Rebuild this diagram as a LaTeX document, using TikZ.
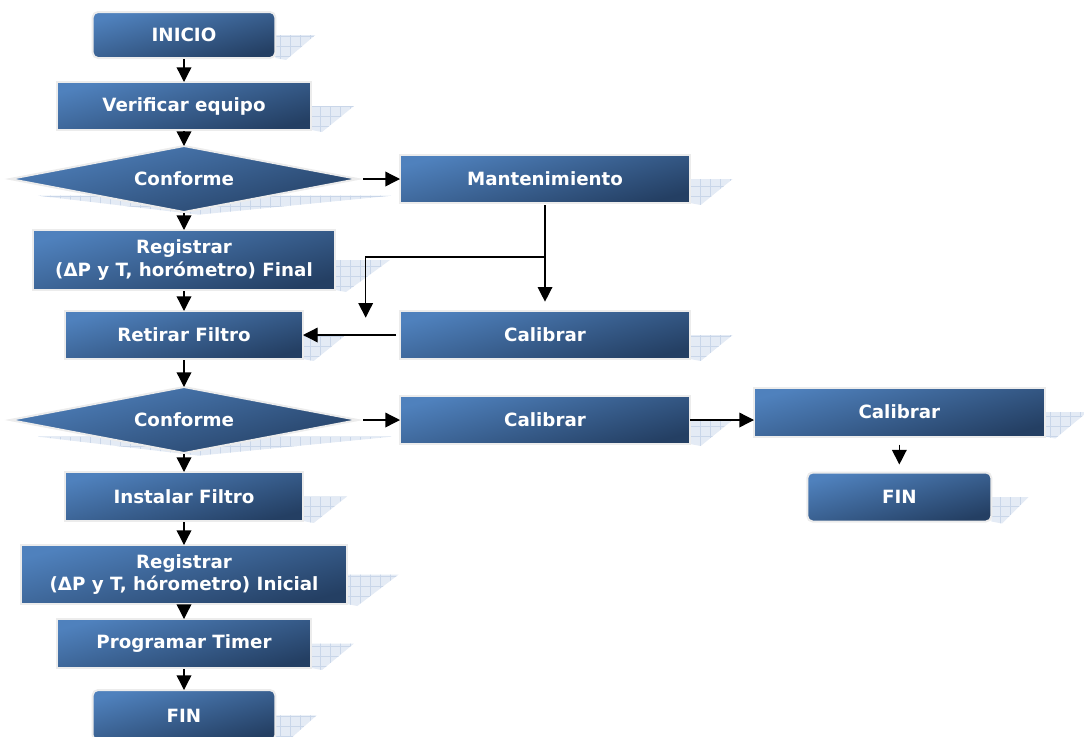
\documentclass[tikz,border=0pt]{standalone}
\usepackage{fontspec}
\setmainfont{DejaVu Sans}
\usepackage{xcolor}
\usepackage{tikz}
\usetikzlibrary{arrows.meta,positioning,calc,shapes.geometric,patterns.meta,backgrounds}
\definecolor{BoxLight}{HTML}{4F81BD}
\definecolor{BoxDark}{HTML}{243F63}
\definecolor{BoxRim}{HTML}{ECECEC}
\definecolor{ShadeFill}{HTML}{E4EBF5}
\definecolor{ShadeGrid}{HTML}{C9D6E9}

\tikzset{
  stepbox/.style={rectangle,draw=BoxRim,line width=1.5pt,outer sep=0pt,
    top color=BoxLight,bottom color=BoxDark,shading angle=15,text=white,
    font=\bfseries\fontsize{13.7}{17}\selectfont,align=center,inner sep=2pt},
  endbox/.style={stepbox,rounded corners=4pt},
  decision/.style={stepbox,diamond,aspect=5,inner sep=0pt,
    minimum width=261pt,minimum height=49.5pt},
  arr/.style={line width=1pt,-{Triangle[width=11pt,length=11pt]}},
  boxshadow/.style={preaction={fill=ShadeFill},
    pattern={Hatch[distance=7.5pt,angle=0,line width=0.5pt]},pattern color=ShadeGrid}
}

\begin{document}
\begin{tikzpicture}
\useasboundingbox (0,0) rectangle (813pt,-552pt);
% columna principal
\node[endbox,minimum width=137pt,minimum height=34.5pt] (inicio) at (138pt,-26.25pt) {INICIO};
\node[stepbox,minimum width=191pt,minimum height=36pt,below=18pt of inicio] (verif) {Verificar equipo};
\node[decision,below=12pt of verif] (conf1) {Conforme};
\node[stepbox,minimum width=227pt,minimum height=45pt,below=13.5pt of conf1] (regfin)
{Registrar\\(ΔP y T, horómetro) Final};
\node[stepbox,minimum width=178.5pt,minimum height=36pt,below=15.75pt of regfin] (retiro) {Retirar Filtro};
\node[decision,below=21pt of retiro] (conf2) {Conforme};
\node[stepbox,minimum width=178.5pt,minimum height=36.75pt,below=14.25pt of conf2] (instal) {Instalar Filtro};
\node[stepbox,minimum width=244pt,minimum height=44.25pt,below=18pt of instal] (regini)
{Registrar\\(ΔP y T, hórometro) Inicial};
\node[stepbox,minimum width=191pt,minimum height=36.75pt,below=11.25pt of regini] (timer) {Programar Timer};
\node[endbox,minimum width=137pt,minimum height=38pt,below=16.5pt of timer] (fin1) {FIN};
% ramas a la derecha
\node[stepbox,minimum width=217.5pt,minimum height=36pt,right=31.5pt of conf1] (mant) {Mantenimiento};
\node[stepbox,minimum width=217.5pt,minimum height=36pt,below=81pt of mant] (calib1) {Calibrar};
\node[stepbox,minimum width=217.5pt,minimum height=36pt,right=31.5pt of conf2] (calib2) {Calibrar};
\node[stepbox,minimum width=218pt,minimum height=36.75pt,right=48pt of calib2,yshift=6pt] (calib3) {Calibrar};
\node[endbox,minimum width=138pt,minimum height=36.75pt,below=27pt of calib3] (fin2) {FIN};

% sombras
\begin{scope}[on background layer]
\foreach \n/\d in {inicio/30pt,verif/32pt,mant/32pt,regfin/41pt,retiro/32pt,calib1/32pt,
  calib2/32pt,calib3/32pt,fin2/28pt,instal/33pt,regini/39pt,timer/32pt,fin1/31pt}
  \fill[boxshadow] (\n.east) -- ++(\d,0) -- ($(\n.south east)+(8pt,-1.5pt)$) -- (\n.south east) -- cycle;
\foreach \n in {conf1,conf2}
  \fill[boxshadow] ($(\n.west)+(21pt,-12.5pt)$) -- ($(\n.east)+(25pt,-12.5pt)$)
    -- ($(\n.south)+(11pt,-2pt)$) -- cycle;
\end{scope}

% flechas
\foreach \a/\b in {inicio/verif,verif/conf1,conf1/regfin,regfin/retiro,retiro/conf2,
  conf2/instal,instal/regini,regini/timer,timer/fin1}
  \draw[arr,shorten <=1pt] (\a.south) -- (\b.north);
\draw[arr,shorten <=4pt] (conf1.east) -- (mant.west);
\coordinate (split) at ($(mant.south)!0.5!(calib1.north)$);
\coordinate (drop) at ($(retiro.north east)+(47pt,-5pt)$);
\draw[arr,shorten <=1.5pt,shorten >=7pt] (mant.south) -- (calib1.north);
\draw[arr] (split) -| (drop);
\draw[arr,shorten <=3pt] (calib1.west) -- (calib1.west -| retiro.east);
\draw[arr,shorten <=4pt] (conf2.east) -- (calib2.west);
\draw[arr] (calib2.east) -- (calib2.east -| calib3.west);
\draw[arr,shorten <=6pt,shorten >=6pt] (calib3.south) -- (fin2.north);
\end{tikzpicture}
\end{document}
